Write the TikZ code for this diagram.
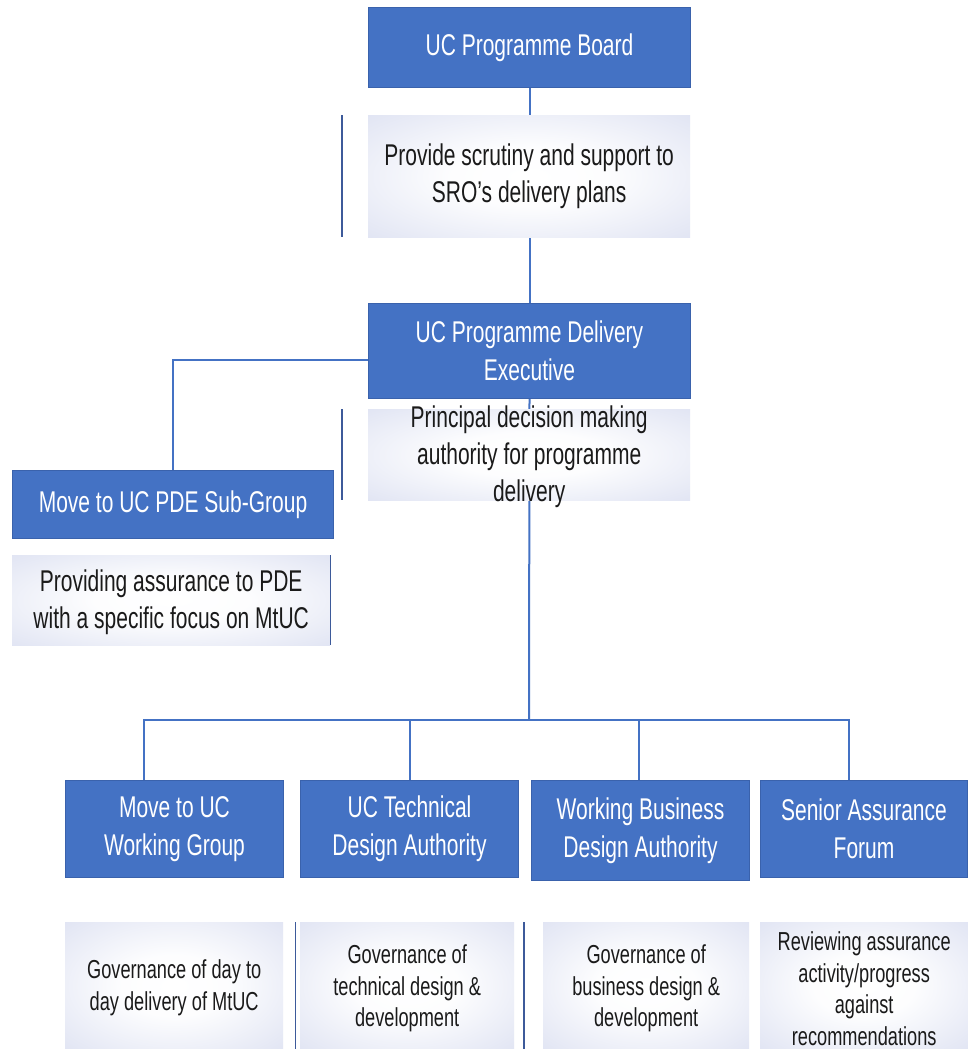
\documentclass[tikz,border=0pt]{standalone}
\usepackage{fontspec}
\setmainfont{Liberation Sans}[FakeStretch=0.7]
\usetikzlibrary{calc,backgrounds}
\definecolor{ucblue}{HTML}{4472C4}
\definecolor{ucedge}{HTML}{3A62AC}
\definecolor{lav}{HTML}{D6DBEF}
\definecolor{txt}{HTML}{1A1A1A}
\definecolor{rulecol}{HTML}{3D5A9A}
\pgfdeclareradialshading{descshade}{\pgfpoint{0bp}{0bp}}{color(0bp)=(white); color(12bp)=(white!95!lav); color(45bp)=(lav); color(75bp)=(lav)}
\tikzset{
  bluebox/.style={draw=ucedge, line width=1pt, fill=ucblue, text=white, align=center,
    inner sep=0pt, font=\fontsize{30}{38}\selectfont, anchor=north west},
  descbox/.style={shading=descshade, inner sep=0pt, anchor=north west},
  desctext/.style={text=txt, align=center, inner sep=0pt, font=\fontsize{30}{37}\selectfont},
  smalltext/.style={text=txt, align=center, inner sep=0pt, font=\fontsize{26}{31.5}\selectfont},
  link/.style={draw=ucblue, line width=2pt},
  rulestyle/.style={draw=rulecol, line width=1.5pt}
}
\begin{document}
\begin{tikzpicture}[x=1pt,y=-1pt]
\useasboundingbox (0,0) rectangle (968,1049);

% top column
\node[bluebox, minimum width=322pt, minimum height=80pt] (board) at (368,7) {UC Programme Board};
\node[descbox, minimum width=322pt, minimum height=122pt] (d1) at (368,115) {};
\node[desctext] (d1t) at (d1.center) {Provide scrutiny and support to\\SRO’s delivery plans};
\node[bluebox, minimum width=322pt, minimum height=95pt] (pde) at (368,303) {UC Programme Delivery\\Executive};
\node[descbox, minimum width=322pt, minimum height=91pt] (d2) at (368,409) {};
\node[desctext] (d2t) at ([yshift=-2pt]d2.center) {Principal decision making\\authority for programme\\delivery};

% sub-group
\node[bluebox, minimum width=321pt, minimum height=68pt] (sub) at (12,470) {Move to UC PDE Sub-Group};
\node[descbox, minimum width=318pt, minimum height=90pt] (d3) at (12,555) {};
\node[desctext] (d3t) at ([yshift=-2pt]d3.center) {Providing assurance to PDE\\with a specific focus on MtUC};

% bottom row
\node[bluebox, minimum width=218pt, minimum height=97pt] (b1) at (65,780) {Move to UC\\Working Group};
\node[bluebox, minimum width=218pt, minimum height=97pt] (b2) at (300,780) {UC Technical\\Design Authority};
\node[bluebox, minimum width=218pt, minimum height=100pt] (b3) at (531,780) {Working Business\\Design Authority};
\node[bluebox, minimum width=207pt, minimum height=97pt] (b4) at (760,780) {Senior Assurance\\Forum};

\node[descbox, minimum width=218pt, minimum height=127pt] (e1) at (65,922) {};
\node[descbox, minimum width=214pt, minimum height=127pt] (e2) at (300,922) {};
\node[descbox, minimum width=206pt, minimum height=127pt] (e3) at (543,922) {};
\node[descbox, minimum width=208pt, minimum height=127pt] (e4) at (760,922) {};
\node[smalltext] (e1t) at ([yshift=-2pt]e1.center) {Governance of day to\\day delivery of MtUC};
\node[smalltext] (e2t) at ([yshift=-3pt]e2.center) {Governance of\\technical design \&\\development};
\node[smalltext] (e3t) at ([yshift=-3pt]e3.center) {Governance of\\business design \&\\development};
\node[smalltext] (e4t) at ([yshift=-3pt]e4.center) {Reviewing assurance\\activity/progress\\against\\recommendations};

\coordinate (bus) at (529,720);

% connectors
\begin{scope}[on background layer]
\fill[white] (0,0) rectangle (968,1049);
\draw[link] (board.south) -- (pde.north);
\draw[link] (pde.south) -- (bus);
\draw[link] ([yshift=-8.5pt]pde.west) -| (sub.north);
\draw[link] (bus) -| ([xshift=-31pt]b1.north);
\draw[link] (bus) -| (b2.north);
\draw[link] (bus) -| ([xshift=-2pt]b3.north);
\draw[link] (bus) -| ([xshift=-15pt]b4.north);
\end{scope}

% thin side rules
\draw[rulestyle] ([xshift=-26pt]d1.north west) -- ([xshift=-26pt]d1.south west);
\draw[rulestyle] ([xshift=-26pt]d2.north west) -- ([xshift=-26pt]d2.south west);
\draw[rulestyle] (d3.north east) -- (d3.south east);
\draw[rulestyle, line width=1pt] ([xshift=-5pt]e2.north west) -- ([xshift=-5pt]e2.south west);
\draw[rulestyle, line width=2pt] ([xshift=-19pt]e3.north west) -- ([xshift=-19pt]e3.south west);
\end{tikzpicture}
\end{document}
